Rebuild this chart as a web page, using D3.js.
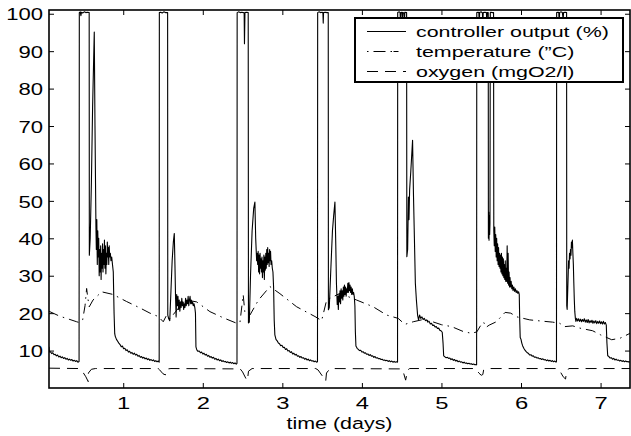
<!DOCTYPE html>
<html>
<head>
<meta charset="utf-8">
<script src="https://cdn.jsdelivr.net/npm/d3@7"></script>
<style>
  body { margin: 0; background: #fff; }
  svg { display: block; font-family: "Liberation Sans", Arial, sans-serif; }
</style>
</head>
<body>
<svg id="chart" width="631" height="436"></svg>
<script>
// tick labels
var xTicks = [1, 2, 3, 4, 5, 6, 7];
var yTicks = [10, 20, 30, 40, 50, 60, 70, 80, 90, 100];

var legendLabels = ["controller output (%)", "temperature (\u201dC)", "oxygen (mgO2/l)"];

// controller output (%), [day, value]
var controllerOutput = [
  [0.067,11.0],[0.072,9.6],[0.085,9.7],[0.10,9.2],[0.115,9.4],[0.13,8.9],[0.145,9.0],[0.16,8.6],[0.175,8.8],[0.19,8.3],
  [0.205,8.5],[0.22,8.1],[0.235,8.3],[0.25,7.9],[0.265,8.1],[0.28,7.7],[0.295,7.9],[0.31,7.5],[0.325,7.7],[0.34,7.4],
  [0.355,7.6],[0.37,7.2],[0.385,7.4],[0.40,7.1],[0.415,7.3],[0.43,6.9],[0.445,7.1],
  // pulse 1
  [0.448,100.3],[0.46,100.5],[0.468,99.5],[0.475,100.4],[0.49,100.2],[0.51,100.5],[0.53,100.3],[0.55,100.4],[0.572,100.3],
  [0.574,35.5],[0.585,40],[0.60,55],[0.615,75],[0.636,95.1],[0.645,70],[0.657,43],[0.662,37],[0.668,45],[0.674,33],
  [0.68,42],[0.686,35],[0.692,40],[0.698,30],[0.704,37],[0.71,31],[0.716,38],[0.722,29],[0.728,36],[0.734,32],
  [0.74,38.5],[0.746,31],[0.752,37],[0.758,33],[0.764,39.5],[0.77,32],[0.776,38],[0.782,30.5],[0.788,36],[0.794,33],
  [0.80,39],[0.806,35],[0.812,37.5],[0.818,33],[0.824,38],[0.83,35],[0.838,36],[0.846,34],[0.855,35],[0.865,33],
  [0.875,31],[0.885,20],[0.893,14.5],
  [0.90,13.8],[0.915,13.0],[0.93,12.5],[0.945,12.0],[0.96,11.6],[0.975,11.0],[0.99,11.2],[1.005,10.5],[1.02,10.6],
  [1.035,10.0],[1.05,10.2],[1.065,9.6],[1.08,9.8],[1.095,9.3],[1.11,9.5],[1.125,9.0],[1.14,9.3],[1.155,8.8],[1.17,9.0],
  [1.185,8.5],[1.20,8.7],[1.215,8.2],[1.23,8.4],[1.245,8.0],[1.26,8.2],[1.275,7.8],[1.29,8.0],[1.305,7.6],[1.32,7.8],
  [1.335,7.4],[1.35,7.6],[1.365,7.3],[1.38,7.5],[1.395,7.1],[1.41,7.3],[1.425,7.0],[1.44,7.2],[1.452,6.9],
  // pulse 2
  [1.454,100.3],[1.47,100.4],[1.49,100.2],[1.51,100.5],[1.53,100.3],[1.558,100.3],[1.56,19.5],[1.572,18.5],[1.585,18],
  [1.60,26],[1.615,34],[1.63,39],[1.642,41.3],[1.65,33],[1.658,24],[1.665,19],[1.672,25],[1.68,22],[1.688,24.5],
  [1.696,21],[1.704,23.5],[1.712,20.5],[1.72,23],[1.728,21.5],[1.736,24],[1.744,22],[1.752,23],[1.76,21],[1.768,22.5],
  [1.776,21.5],[1.784,24],[1.792,22],[1.80,23.5],[1.808,22.5],[1.816,24.5],[1.824,22],[1.832,23.5],[1.84,24.5],
  [1.848,22.5],[1.856,23.5],[1.864,22.5],[1.872,23],[1.88,22],[1.89,22.5],[1.90,21.5],[1.908,20],[1.914,11],[1.925,10.2],
  [1.94,9.8],[1.955,9.9],[1.97,9.4],[1.985,9.6],[2.0,9.1],[2.015,9.3],[2.03,8.8],[2.045,9.0],[2.06,8.5],[2.075,8.7],
  [2.09,8.2],[2.105,8.4],[2.12,8.0],[2.135,8.2],[2.15,7.7],[2.165,7.9],[2.18,7.5],[2.195,7.7],[2.21,7.3],[2.225,7.5],
  [2.24,7.1],[2.255,7.3],[2.27,7.0],[2.285,7.1],[2.30,6.8],[2.315,7.0],[2.33,6.7],[2.345,6.9],[2.36,6.6],[2.375,6.8],
  [2.39,6.5],[2.405,6.7],[2.42,6.4],[2.43,6.6],
  // pulse 3
  [2.432,100.3],[2.45,100.5],[2.47,100.3],[2.49,100.4],[2.51,100.3],[2.52,100.2],[2.524,92],[2.53,100.3],[2.55,100.4],
  [2.571,100.3],[2.574,17.4],[2.585,17.6],[2.60,30],[2.62,42],[2.64,48],[2.655,49.7],[2.665,40],[2.677,34],[2.684,36],
  [2.69,33],[2.696,36.5],[2.702,31],[2.708,35.5],[2.714,30.5],[2.72,36],[2.726,32],[2.732,34.5],[2.738,31],[2.744,35],
  [2.75,29.5],[2.756,34],[2.762,31],[2.768,35.5],[2.774,29],[2.78,35],[2.786,31.5],[2.792,36],[2.798,32],[2.804,37],
  [2.81,33],[2.816,37.5],[2.822,33.5],[2.828,36],[2.834,32.5],[2.84,37],[2.846,34],[2.852,36.5],[2.858,33],[2.866,34],
  [2.874,32],[2.882,31],[2.89,27],[2.898,18],[2.906,14.2],
  [2.92,13.0],[2.935,12.6],[2.95,12.0],[2.965,11.8],[2.98,11.3],[2.995,11.4],[3.01,10.8],[3.025,10.9],[3.04,10.3],
  [3.055,10.5],[3.07,9.9],[3.085,10.0],[3.10,9.5],[3.115,9.7],[3.13,9.1],[3.145,9.3],[3.16,8.8],[3.175,9.0],[3.19,8.5],
  [3.205,8.6],[3.22,8.2],[3.235,8.4],[3.25,8.0],[3.265,8.1],[3.28,7.7],[3.295,7.9],[3.31,7.5],[3.325,7.7],[3.34,7.3],
  [3.355,7.5],[3.37,7.2],[3.385,7.3],[3.40,7.0],[3.415,7.2],[3.43,6.9],[3.442,7.0],
  // pulse 4
  [3.444,100.3],[3.46,100.5],[3.48,100.3],[3.50,100.4],[3.51,100.2],[3.514,97.5],[3.518,100.3],[3.54,100.4],[3.56,100.3],
  [3.577,100.3],[3.579,20.9],[3.59,21.5],[3.61,32],[3.63,42],[3.645,46],[3.661,49.7],[3.672,38],[3.68,28],[3.69,22.3],
  [3.697,24.5],[3.704,21],[3.711,25],[3.718,23],[3.725,26],[3.732,22.5],[3.739,26.5],[3.746,24],[3.753,26],[3.76,23.5],
  [3.767,27],[3.774,24.5],[3.781,27.5],[3.788,25],[3.795,27],[3.802,24.5],[3.809,26.5],[3.816,25.5],[3.823,28],
  [3.83,25.5],[3.837,28.2],[3.844,26],[3.851,27.5],[3.858,25.5],[3.865,27],[3.872,25],[3.88,26.5],[3.888,25],
  [3.896,25.5],[3.904,24.5],[3.912,22],[3.918,15],[3.925,11.2],
  [3.94,10.6],[3.955,10.3],[3.97,10.0],[3.985,10.1],[4.0,9.6],[4.015,9.7],[4.03,9.3],[4.045,9.4],[4.06,9.0],[4.075,9.1],
  [4.09,8.7],[4.105,8.9],[4.12,8.5],[4.135,8.6],[4.15,8.2],[4.165,8.4],[4.18,8.0],[4.195,8.1],[4.21,7.8],[4.225,7.9],
  [4.24,7.6],[4.255,7.7],[4.27,7.4],[4.285,7.5],[4.30,7.3],[4.315,7.4],[4.33,7.1],[4.345,7.3],[4.36,7.0],[4.375,7.2],
  [4.39,6.9],[4.405,7.1],[4.42,6.9],[4.435,7.0],[4.448,6.9],
  // pulse 5
  [4.45,100.3],[4.47,100.5],[4.48,100.3],[4.485,97.8],[4.49,100.3],[4.505,100.4],[4.51,98],[4.515,100.3],[4.53,100.2],
  [4.535,98.2],[4.54,100.4],[4.562,100.3],[4.565,35.1],[4.575,37],[4.585,51],[4.592,45],[4.60,53],[4.615,58],[4.637,66.2],
  [4.648,52],[4.66,40],[4.672,28],[4.685,23.5],[4.70,19.5],[4.712,18.2],[4.725,19.5],[4.74,18.6],[4.755,19],[4.77,18.3],
  [4.785,18.6],[4.80,18.0],[4.815,18.2],[4.83,17.6],[4.845,17.8],[4.86,17.1],[4.875,17.3],[4.89,16.7],[4.905,16.8],
  [4.92,16.3],[4.935,16.4],[4.95,15.9],[4.965,16.0],[4.98,15.4],[4.995,15.3],[5.01,14.9],[5.02,12],[5.028,8.6],
  [5.045,8.3],[5.06,8.1],[5.075,8.2],[5.09,7.9],[5.105,8.0],[5.12,7.6],[5.135,7.8],[5.15,7.4],[5.165,7.6],[5.18,7.2],
  [5.195,7.4],[5.21,7.0],[5.225,7.2],[5.24,6.9],[5.255,7.0],[5.27,6.7],[5.285,6.9],[5.30,6.6],[5.315,6.7],[5.33,6.5],
  [5.345,6.6],[5.36,6.4],[5.375,6.5],[5.39,6.3],[5.405,6.4],[5.42,6.2],[5.435,6.3],[5.442,6.2],
  // pulse 6
  [5.444,100.3],[5.46,100.4],[5.47,100.3],[5.475,97.5],[5.48,100.3],[5.50,100.5],[5.515,100.2],[5.52,97],[5.525,100.3],
  [5.545,100.4],[5.565,100.3],[5.57,98],[5.575,100.3],[5.588,100.3],[5.59,40],[5.594,47],[5.598,39.5],[5.602,46],
  [5.606,41],[5.61,44],[5.614,100.3],[5.62,100.4],[5.64,100.3],[5.655,100.3],[5.658,42],[5.664,38],[5.67,43],
  [5.676,36.5],[5.682,41],[5.688,35],[5.694,40],[5.70,34],[5.706,38.5],[5.712,33],[5.718,37.5],[5.724,32.5],[5.73,36],
  [5.736,32],[5.742,35.5],[5.748,31],[5.754,36],[5.76,30.5],[5.766,35],[5.772,30],[5.778,34.5],[5.784,29.5],[5.79,33],
  [5.796,29],[5.802,34],[5.808,28.5],[5.814,32],[5.82,28.5],[5.826,38],[5.832,28],[5.838,36],[5.844,27.5],[5.85,31],
  [5.856,27],[5.862,29.5],[5.868,27],[5.876,28.5],[5.884,26.5],[5.892,27.5],[5.90,26],[5.91,27],[5.92,25.8],[5.93,26.5],
  [5.94,25.5],[5.95,26],[5.96,25.3],[5.97,25.7],[5.978,25],[5.984,18],[5.99,13.5],
  [6.0,13.0],[6.01,12.0],[6.02,11.3],[6.035,10.6],[6.05,10.1],[6.065,9.7],[6.08,9.4],[6.095,9.2],[6.11,8.8],[6.125,8.9],
  [6.14,8.5],[6.155,8.6],[6.17,8.2],[6.185,8.3],[6.2,8.0],[6.215,8.1],[6.23,7.8],[6.245,7.9],[6.26,7.6],[6.275,7.8],
  [6.29,7.5],[6.305,7.6],[6.32,7.3],[6.335,7.5],[6.35,7.2],[6.365,7.4],[6.38,7.1],[6.395,7.3],[6.41,7.0],[6.425,7.2],
  [6.44,6.9],[6.446,7.1],
  // pulse 7
  [6.448,100.3],[6.465,100.4],[6.475,100.3],[6.48,97.5],[6.485,100.3],[6.50,100.5],[6.52,100.3],[6.53,98.5],[6.535,100.3],
  [6.555,100.4],[6.573,100.3],[6.575,22],[6.58,21],[6.59,28],[6.598,34],[6.604,32],[6.61,36],[6.616,34.5],[6.622,37],
  [6.628,35.5],[6.634,39],[6.64,37.5],[6.646,39.5],[6.652,36],[6.658,33],[6.664,28],[6.67,23.5],[6.676,20.4],[6.684,18.5],
  [6.69,17.8],[6.70,18.6],[6.712,17.9],[6.724,18.5],[6.736,17.8],[6.748,18.4],[6.76,17.7],[6.772,18.3],[6.784,17.8],
  [6.796,18.5],[6.808,17.6],[6.82,18.2],[6.832,17.5],[6.844,18.3],[6.856,17.4],[6.868,18.0],[6.88,17.5],[6.892,18.1],
  [6.904,17.3],[6.916,17.9],[6.928,17.4],[6.94,18.0],[6.952,17.2],[6.964,17.8],[6.976,17.3],[6.988,17.9],[7.0,17.2],
  [7.012,17.7],[7.024,17.1],[7.036,17.8],[7.048,17.1],[7.06,17.5],[7.072,16.8],[7.08,12],[7.09,8.6],
  [7.105,8.4],[7.12,8.0],[7.135,8.1],[7.15,7.7],[7.165,7.9],[7.18,7.5],[7.195,7.7],[7.21,7.4],[7.225,7.5],[7.24,7.2],
  [7.255,7.4],[7.27,7.1],[7.285,7.3],[7.30,7.0],[7.315,7.2],[7.33,7.0],[7.345,7.1],[7.36,6.9],[7.37,7.1]
];

// temperature (deg C), [day, value]
var temperature = [
  [0.067,20.5],[0.2,19.2],[0.33,18.3],[0.415,17.7],[0.445,17.5],[0.49,18.2],[0.52,22],[0.54,26.6],[0.555,24],
  [0.573,21.7],[0.62,23.5],[0.729,25.7],[0.871,25.0],[1.043,23.1],[1.2,21.5],[1.336,20.0],[1.44,19.1],[1.503,17.7],
  [1.546,19.5],[1.587,18.5],[1.7,21.5],[1.797,23.5],[1.923,23.0],[2.09,20.4],[2.253,18.8],[2.426,17.3],[2.467,17.5],
  [2.508,24.9],[2.53,20],[2.593,19.5],[2.7,23.5],[2.844,27.1],[2.97,25.2],[3.18,21.7],[3.41,19.1],[3.494,18.0],
  [3.557,23.5],[3.724,25.3],[3.934,23.5],[4.142,21.7],[4.31,19.5],[4.456,18.6],[4.54,17.0],[4.645,17.7],[4.75,18.2],
  [4.86,17.9],[5.002,16.9],[5.128,16.4],[5.273,15.1],[5.38,14.6],[5.445,15.0],[5.49,16.6],[5.53,17.6],[5.56,16.2],
  [5.6,16.8],[5.69,17.7],[5.80,20.2],[5.87,20.0],[5.95,19.0],[6.11,18.2],[6.25,17.9],[6.397,17.6],[6.485,17.3],
  [6.55,16.4],[6.65,16.6],[6.74,16.0],[6.90,15.3],[7.0,14.2],[7.14,12.9],[7.245,13.3],[7.37,14.6]
];

// oxygen (mgO2/l), [day, value]
var oxygen = [
  [0.067,5.3],[0.44,5.2],[0.47,4.6],[0.50,4.0],[0.53,3.0],[0.56,1.7],[0.562,4.0],[0.60,5.0],[0.65,5.2],
  [1.44,5.2],[1.455,4.9],[1.50,3.8],[1.53,3.5],[1.535,4.8],[1.56,5.1],[1.60,5.2],
  [2.47,5.1],[2.50,4.3],[2.55,2.2],[2.56,2.0],[2.575,4.5],[2.62,5.2],
  [3.42,5.2],[3.45,4.8],[3.50,3.3],[3.53,2.2],[3.545,1.8],[3.555,4.0],[3.60,5.2],
  [4.50,5.1],[4.52,4.3],[4.55,2.1],[4.575,4.8],[4.60,5.2],
  [5.40,5.2],[5.44,5.0],[5.47,4.0],[5.50,3.4],[5.52,3.6],[5.53,4.8],[5.57,5.2],
  [6.45,5.2],[6.49,4.5],[6.53,3.0],[6.56,2.4],[6.57,4.0],[6.60,5.2],[7.37,5.2]
];

var svg = d3.select("#chart");
var mLeft = 49, mRight = 630, mTop = 10, mBottom = 388;

var x = d3.scaleLinear().domain([0.067, 7.37]).range([mLeft, mRight]);
var y = d3.scaleLinear().domain([0, 101]).range([mBottom, mTop]);

var stretch = 1.4;   // the figure's lettering is wide

svg.append("clipPath").attr("id", "plotclip")
  .append("rect").attr("x", mLeft).attr("y", mTop).attr("width", mRight - mLeft).attr("height", mBottom - mTop);

var line = d3.line().x(function(d){ return x(d[0]); }).y(function(d){ return y(d[1]); });

var plot = svg.append("g").attr("clip-path", "url(#plotclip)");

plot.append("path").datum(oxygen)
  .attr("d", line).attr("fill", "none").attr("stroke", "#000")
  .attr("stroke-width", 1).attr("stroke-dasharray", "11,7");

plot.append("path").datum(temperature)
  .attr("d", line).attr("fill", "none").attr("stroke", "#000")
  .attr("stroke-width", 1).attr("stroke-dasharray", "10,5,1.5,5");

plot.append("path").datum(controllerOutput)
  .attr("d", line).attr("fill", "none").attr("stroke", "#000")
  .attr("stroke-width", 1.1).attr("stroke-linejoin", "round");

// axes, ticks pointing inward on all four sides
var gx = svg.append("g").attr("transform", "translate(0," + mBottom + ")")
  .call(d3.axisBottom(x).tickValues(xTicks).tickSizeInner(-5).tickSizeOuter(0).tickFormat(d3.format("d")));
gx.selectAll("text").attr("y", 0).attr("dy", 0)
  .attr("transform", "translate(0,21) scale(" + stretch + ",1)");

var gy = svg.append("g").attr("transform", "translate(" + mLeft + ",0)")
  .call(d3.axisLeft(y).tickValues(yTicks).tickSizeInner(-5).tickSizeOuter(0).tickFormat(d3.format("d")));
gy.selectAll("text").attr("x", 0).attr("dy", "0.36em")
  .attr("transform", "translate(-6,0) scale(1.3,1)");

svg.append("g").attr("transform", "translate(0," + mTop + ")")
  .call(d3.axisTop(x).tickValues(xTicks).tickSizeInner(-5).tickSizeOuter(0).tickFormat(""));
svg.append("g").attr("transform", "translate(" + mRight + ",0)")
  .call(d3.axisRight(y).tickValues(yTicks).tickSizeInner(-5).tickSizeOuter(0).tickFormat(""));

svg.selectAll(".domain").remove();
svg.selectAll(".tick line").attr("stroke", "#000").attr("stroke-width", 1);
svg.selectAll(".tick text").attr("font-size", 17).attr("font-family", "Liberation Sans, Arial, sans-serif").attr("fill", "#000");

svg.append("rect")
  .attr("x", mLeft).attr("y", mTop).attr("width", mRight - mLeft).attr("height", mBottom - mTop)
  .attr("fill", "none").attr("stroke", "#000").attr("stroke-width", 1.6);

svg.append("text")
  .attr("text-anchor", "middle").attr("font-size", 16.5)
  .attr("transform", "translate(" + ((mLeft + mRight) / 2) + ",429) scale(1.3,1)")
  .text("time (days)");

// legend
var legend = svg.append("g").attr("transform", "translate(355,18)");
legend.append("rect").attr("width", 268).attr("height", 64)
  .attr("fill", "#fff").attr("stroke", "#000").attr("stroke-width", 2);

var dashes = [null, "1.5,5,12,5,1.5", "11,7"];
legend.selectAll(".entry").data(legendLabels).enter()
  .append("g").attr("class", "entry")
  .attr("transform", function(d, i){ return "translate(0," + (13.5 + i * 20) + ")"; })
  .each(function(d, i) {
    var g = d3.select(this);
    g.append("line").attr("x1", 12).attr("x2", 51).attr("y1", 0).attr("y2", 0)
      .attr("stroke", "#000").attr("stroke-width", 1)
      .attr("stroke-dasharray", dashes[i]);
    g.append("text").attr("font-size", 15.3)
      .attr("transform", "translate(61,5.5) scale(" + stretch + ",1)")
      .text(d);
  });
</script>
</body>
</html>
